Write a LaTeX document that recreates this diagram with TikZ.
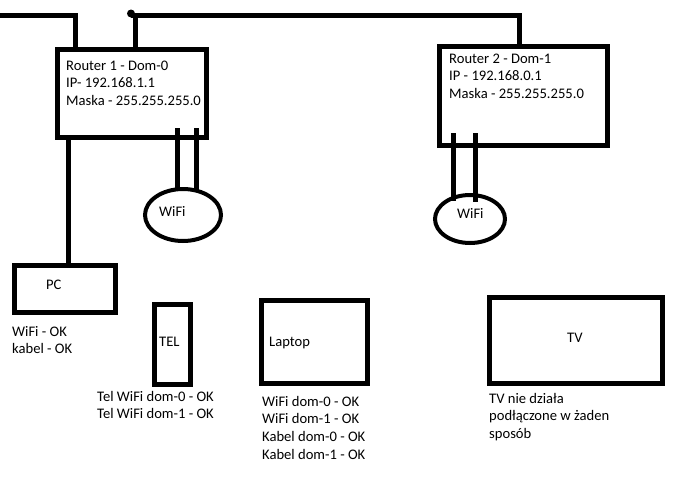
\documentclass[tikz,border=0pt]{standalone}
\usepackage{fontspec}
\setmainfont{Carlito}
\usetikzlibrary{shapes.geometric}
\begin{document}
\begin{tikzpicture}[x=1pt,y=-1pt,
  box/.style={draw,line width=5pt,inner sep=0pt,outer sep=0pt},
  wifi/.style={draw,ellipse,line width=4pt,inner sep=0pt,outer sep=0pt},
  wire/.style={line width=5pt},
  txt/.style={anchor=base west,inner sep=0pt,align=left,font=\fontsize{14.6}{17.6}\selectfont}]
\useasboundingbox[fill=white] (0,0) rectangle (685,477);
% boxes
\node[box,minimum width=149pt,minimum height=88pt] (r1) at (132,93.5) {};
\node[box,minimum width=168pt,minimum height=99pt] (r2) at (523.5,96) {};
\node[box,minimum width=101pt,minimum height=47pt] (pc) at (65,289) {};
\node[box,minimum width=36.5pt,minimum height=80.5pt] (tel) at (172.25,344.25) {};
\node[box,minimum width=106.5pt,minimum height=83.5pt] (laptop) at (314.25,341.75) {};
\node[box,minimum width=173pt,minimum height=86pt] (tv) at (576,340.5) {};
\node[wifi,minimum width=76pt,minimum height=52pt] (w1) at (183,215) {};
\node[wifi,minimum width=70pt,minimum height=48pt] (w2) at (470,219) {};
% texts (anchor = baseline of the last line)
\node[txt] (r1t) at (66,105.2) {Router 1 - Dom-0\\IP- 192.168.1.1\\Maska - 255.255.255.0};
\node[txt] (r2t) at (449,98.5) {Router 2 - Dom-1\\IP - 192.168.0.1\\Maska - 255.255.255.0};
\node[txt] (pct) at (46,289) {PC};
\node[txt] (pcl) at (12,353.6) {WiFi - OK\\kabel - OK};
\node[txt] (telt) at (159,346) {TEL};
\node[txt] (tell) at (97,418.6) {Tel WiFi dom-0 - OK\\Tel WiFi dom-1 - OK};
\node[txt] (lapt) at (269,346) {Laptop};
\node[txt] (lapl) at (262,459) {WiFi dom-0 - OK\\WiFi dom-1 - OK\\Kabel dom-0 - OK\\Kabel dom-1 - OK};
\node[txt] (tvt) at (567,342) {TV};
\node[txt] (tvl) at (489,438.5) {TV nie działa\\podłączone w żaden\\sposób};
\node[txt] (w1t) at (159,216) {WiFi};
\node[txt] (w2t) at (457,218) {WiFi};
% wires
\coordinate (lin) at (0,15);
\coordinate (top) at (131,15);
\draw[wire] (lin) -| ([xshift=17.5pt]r1.north west);
\draw[wire] (top) -| ([xshift=79.5pt]r2.north west);
\draw[wire] ([xshift=77.5pt]r1.north west) -- ([xshift=77.5pt]r1.north west |- top);
\fill ([yshift=1.5pt]top) circle (4pt);
\draw[wire] ([xshift=10.5pt]r1.south west) -- ([xshift=10.5pt]r1.south west |- pc.north);
% antennas
\draw[wire] ([shift={(119.5pt,9.5pt)}]r1.south west) -- ([shift={(119.5pt,-2pt)}]r1.south west |- w1.north);
\draw[wire] ([shift={(138.5pt,9.5pt)}]r1.south west) -- ([shift={(138.5pt,-2pt)}]r1.south west |- w1.north);
\draw[wire] ([shift={(13.5pt,12.5pt)}]r2.south west) -- ([shift={(13.5pt,-6pt)}]r2.south west |- w2.north);
\draw[wire] ([shift={(35.5pt,12.5pt)}]r2.south west) -- ([shift={(35.5pt,-7pt)}]r2.south west |- w2.north);
\end{tikzpicture}
\end{document}
